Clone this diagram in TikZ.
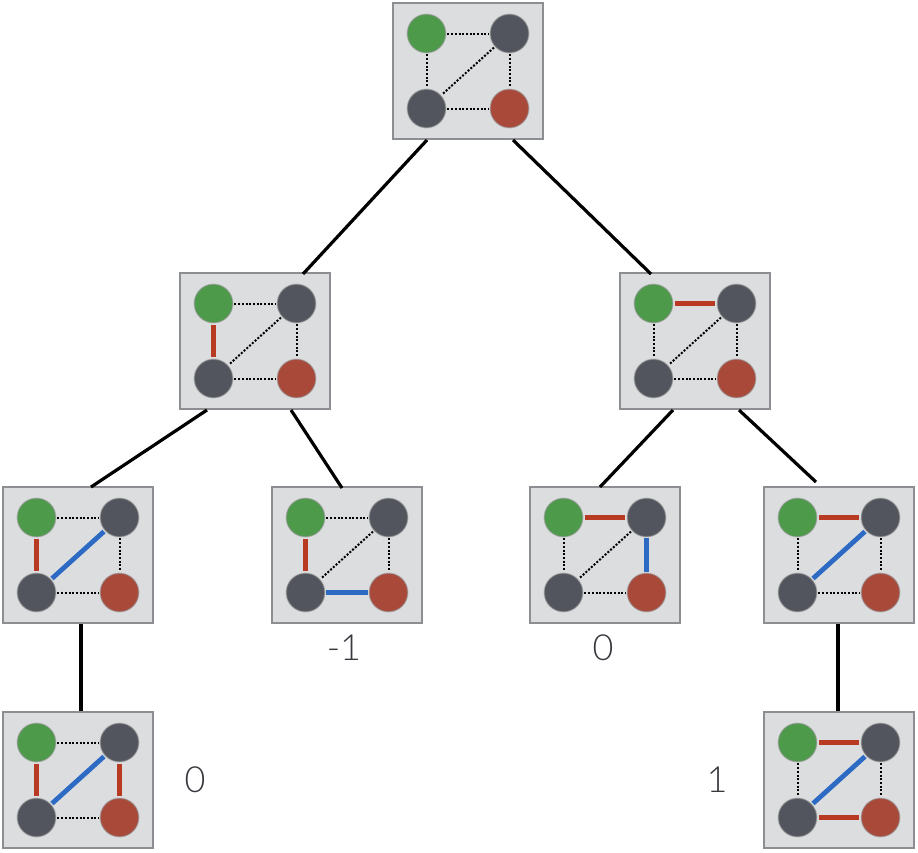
\documentclass[tikz,border=0pt]{standalone}
\usepackage{fontspec}
\newfontfamily\labfont{Lato Light}
\definecolor{cgreen}{HTML}{4E9A4B}
\definecolor{cdark}{HTML}{52555D}
\definecolor{cred}{HTML}{A9493A}
\definecolor{lred}{HTML}{B83A22}
\definecolor{lblue}{HTML}{2C6AC3}
\definecolor{bfill}{HTML}{DCDDDF}
\definecolor{bdraw}{HTML}{8D8E92}
\definecolor{labc}{HTML}{38393E}
\tikzset{
  sbox/.style={draw=bdraw, fill=bfill, line width=2pt, minimum width=150pt, minimum height=136pt, inner sep=0pt},
  dotbase/.style={circle, minimum size=38.5pt, inner sep=0pt, draw=black!45, draw opacity=0.45, line width=1.4pt},
  gn/.style={dotbase, fill=cgreen},
  dn/.style={dotbase, fill=cdark},
  rn/.style={dotbase, fill=cred},
  edot/.style={black, line width=2pt, dash pattern=on 2pt off 1.7pt, shorten >=1pt, shorten <=1pt},
  ered/.style={lred, line width=4.8pt, shorten >=2pt, shorten <=2pt},
  eblue/.style={lblue, line width=4.8pt, shorten >=1pt, shorten <=1pt},
  tree/.style={black, line width=3.2pt},
  lab/.style={text=labc, font=\labfont\fontsize{36}{40}\selectfont, inner sep=0pt}
}
% name, x, y, top, left, right, bottom, diagonal
\newcommand\stbox[8]{%
  \node[sbox] (#1) at (#2,#3) {};
  \node[gn] (#1g) at (#2-41.5,#3-37.5) {};
  \node[dn] (#1a) at (#2+41.5,#3-37.5) {};
  \node[dn] (#1b) at (#2-41.5,#3+37.5) {};
  \node[rn] (#1r) at (#2+41.5,#3+37.5) {};
  \draw[#4] (#1g) -- (#1a);
  \draw[#5] (#1g) -- (#1b);
  \draw[#6] (#1a) -- (#1r);
  \draw[#7] (#1b) -- (#1r);
  \draw[#8] (#1a) -- (#1b);
}
\begin{document}
\begin{tikzpicture}[x=1pt,y=-1pt]
\useasboundingbox (0,0) rectangle (918,852);
\stbox{T}{468}{71}{edot}{edot}{edot}{edot}{edot}
\stbox{La}{255}{341}{edot}{ered}{edot}{edot}{edot}
\stbox{Ra}{695}{341}{ered}{edot}{edot}{edot}{edot}
\stbox{LL}{78}{555}{edot}{ered}{edot}{edot}{eblue}
\stbox{LR}{347}{555}{edot}{ered}{edot}{eblue}{edot}
\stbox{RL}{605}{555}{ered}{edot}{eblue}{edot}{edot}
\stbox{RR}{839}{555}{ered}{edot}{edot}{edot}{eblue}
\stbox{BL}{78}{780}{edot}{ered}{ered}{edot}{eblue}
\stbox{BR}{839}{780}{ered}{edot}{edot}{ered}{eblue}
% tree connectors
\draw[tree] ([xshift=-41pt]T.south) -- ([xshift=48pt,yshift=-2pt]La.north);
\draw[tree] ([xshift=45pt]T.south) -- ([xshift=-44pt,yshift=-2pt]Ra.north);
\draw[tree] ([xshift=-48pt]La.south) -- ([xshift=13pt,yshift=-1pt]LL.north);
\draw[tree] ([xshift=36pt]La.south) -- ([xshift=-5pt,yshift=-2pt]LR.north);
\draw[tree] ([xshift=-22pt]Ra.south) -- ([xshift=-5pt,yshift=-1pt]RL.north);
\draw[tree] ([xshift=44pt]Ra.south) -- ([xshift=-23pt,yshift=4pt]RR.north);
\draw[tree] ([xshift=3pt]LL.south) -- ([xshift=3pt]BL.north);
\draw[tree] ([xshift=-1pt]RR.south) -- ([xshift=-1pt]BR.north);
% labels
\node[lab] (l1) at (344,648) {-1};
\node[lab] (l2) at (603,648) {0};
\node[lab] (l3) at (195,780) {0};
\node[lab] (l4) at (717,780) {1};
\end{tikzpicture}
\end{document}
